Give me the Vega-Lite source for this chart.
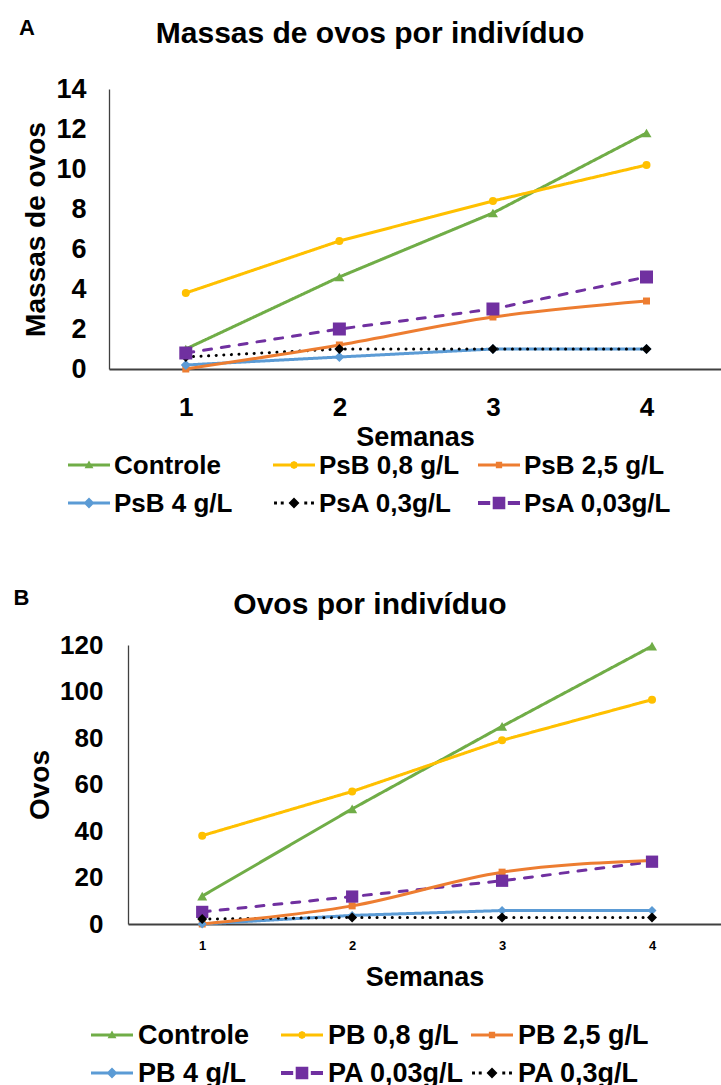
{
  "$schema": "https://vega.github.io/schema/vega-lite/v6.json",
  "background": "white",
  "padding": {"left": 13, "top": 17, "right": 0, "bottom": 0},
  "columns": 1,
  "align": "none",
  "spacing": 70,
  "resolve": {
    "scale": {"color": "independent", "shape": "independent", "stroke": "independent", "strokeDash": "independent", "strokeWidth": "independent"},
    "legend": {"color": "independent", "shape": "independent"}
  },
  "datasets": {
    "a": [
      {"semana": 1, "serie": "Controle", "valor": 1.0},
      {"semana": 2, "serie": "Controle", "valor": 4.6},
      {"semana": 3, "serie": "Controle", "valor": 7.8},
      {"semana": 4, "serie": "Controle", "valor": 11.8},
      {"semana": 1, "serie": "PsB 0,8 g/L", "valor": 3.8},
      {"semana": 2, "serie": "PsB 0,8 g/L", "valor": 6.4},
      {"semana": 3, "serie": "PsB 0,8 g/L", "valor": 8.4},
      {"semana": 4, "serie": "PsB 0,8 g/L", "valor": 10.2},
      {"semana": 1, "serie": "PsB 2,5 g/L", "valor": 0.0},
      {"semana": 2, "serie": "PsB 2,5 g/L", "valor": 1.2},
      {"semana": 3, "serie": "PsB 2,5 g/L", "valor": 2.6},
      {"semana": 4, "serie": "PsB 2,5 g/L", "valor": 3.4},
      {"semana": 1, "serie": "PsB 4 g/L", "valor": 0.2},
      {"semana": 2, "serie": "PsB 4 g/L", "valor": 0.6},
      {"semana": 3, "serie": "PsB 4 g/L", "valor": 1.0},
      {"semana": 4, "serie": "PsB 4 g/L", "valor": 1.0},
      {"semana": 1, "serie": "PsA 0,3g/L", "valor": 0.6},
      {"semana": 2, "serie": "PsA 0,3g/L", "valor": 1.0},
      {"semana": 3, "serie": "PsA 0,3g/L", "valor": 1.0},
      {"semana": 4, "serie": "PsA 0,3g/L", "valor": 1.0},
      {"semana": 1, "serie": "PsA 0,03g/L", "valor": 0.8},
      {"semana": 2, "serie": "PsA 0,03g/L", "valor": 2.0},
      {"semana": 3, "serie": "PsA 0,03g/L", "valor": 3.0},
      {"semana": 4, "serie": "PsA 0,03g/L", "valor": 4.6}
    ],
    "b": [
      {"semana": 1, "serie": "Controle", "valor": 12},
      {"semana": 2, "serie": "Controle", "valor": 49.5},
      {"semana": 3, "serie": "Controle", "valor": 85},
      {"semana": 4, "serie": "Controle", "valor": 119.5},
      {"semana": 1, "serie": "PB 0,8 g/L", "valor": 38},
      {"semana": 2, "serie": "PB 0,8 g/L", "valor": 57},
      {"semana": 3, "serie": "PB 0,8 g/L", "valor": 79},
      {"semana": 4, "serie": "PB 0,8 g/L", "valor": 96.5},
      {"semana": 1, "serie": "PB 2,5 g/L", "valor": 0},
      {"semana": 2, "serie": "PB 2,5 g/L", "valor": 7.8},
      {"semana": 3, "serie": "PB 2,5 g/L", "valor": 22.3},
      {"semana": 4, "serie": "PB 2,5 g/L", "valor": 27.3},
      {"semana": 1, "serie": "PB 4 g/L", "valor": 0},
      {"semana": 2, "serie": "PB 4 g/L", "valor": 3.7},
      {"semana": 3, "serie": "PB 4 g/L", "valor": 5.8},
      {"semana": 4, "serie": "PB 4 g/L", "valor": 5.8},
      {"semana": 1, "serie": "PA 0,03g/L", "valor": 5.2},
      {"semana": 2, "serie": "PA 0,03g/L", "valor": 11.8},
      {"semana": 3, "serie": "PA 0,03g/L", "valor": 18.6},
      {"semana": 4, "serie": "PA 0,03g/L", "valor": 26.8},
      {"semana": 1, "serie": "PA 0,3g/L", "valor": 2.1},
      {"semana": 2, "serie": "PA 0,3g/L", "valor": 2.8},
      {"semana": 3, "serie": "PA 0,3g/L", "valor": 2.8},
      {"semana": 4, "serie": "PA 0,3g/L", "valor": 2.8}
    ]
  },
  "concat": [
    {
      "title": {"text": "A", "anchor": "start", "fontSize": 22, "offset": -21, "dx": -4},
      "spacing": 0,
      "resolve": {
        "scale": {"color": "independent", "shape": "independent", "stroke": "independent", "strokeDash": "independent", "strokeWidth": "independent"},
        "legend": {"color": "independent", "shape": "independent"}
      },
      "vconcat": [
        {
          "width": 612,
          "height": 280,
          "title": {"text": "Massas de ovos por indivíduo", "fontSize": 30, "anchor": "middle", "dx": -45, "offset": 26},
          "data": {"name": "a"},
          "encoding": {
            "x": {"field": "semana", "type": "quantitative", "title": "Semanas",
              "scale": {"domain": [0.5, 4.485], "nice": false, "zero": false},
              "axis": {"values": [1, 2, 3, 4], "format": "d", "labelFontSize": 26, "labelPadding": 25, "titleFontSize": 27, "titlePadding": 4, "domainWidth": 2}},
            "y": {"field": "valor", "type": "quantitative", "title": "Massas de ovos",
              "scale": {"domain": [0, 14], "nice": false},
              "axis": {"values": [0, 2, 4, 6, 8, 10, 12, 14], "labelFontSize": 27, "labelPadding": 23, "titleFontSize": 28, "titlePadding": 5, "domainWidth": 1.3}}
          },
          "layer": [
            {
              "transform": [{"filter": "datum.serie !== 'PsB 2,5 g/L'"}],
              "mark": {"type": "line", "strokeCap": "round", "strokeJoin": "round"},
              "encoding": {
                "stroke": {"field": "serie", "type": "nominal", "legend": null,
                  "scale": {"domain": ["Controle", "PsB 0,8 g/L", "PsB 2,5 g/L", "PsB 4 g/L", "PsA 0,3g/L", "PsA 0,03g/L"],
                            "range": ["#70AD47", "#FFC000", "#ED7D31", "#5B9BD5", "#000000", "#7030A0"]}},
                "strokeDash": {"field": "serie", "type": "nominal", "legend": null,
                  "scale": {"domain": ["Controle", "PsB 0,8 g/L", "PsB 2,5 g/L", "PsB 4 g/L", "PsA 0,3g/L", "PsA 0,03g/L"],
                            "range": [[1, 0], [1, 0], [1, 0], [1, 0], [0.1, 7.5], [8, 10]]}},
                "strokeWidth": {"field": "serie", "type": "nominal", "legend": null,
                  "scale": {"domain": ["Controle", "PsB 0,8 g/L", "PsB 2,5 g/L", "PsB 4 g/L", "PsA 0,3g/L", "PsA 0,03g/L"],
                            "range": [3, 3, 3, 3, 3.6, 4]}}
              }
            },
            {
              "transform": [{"filter": "datum.serie === 'PsB 2,5 g/L'"}],
              "mark": {"type": "line", "interpolate": "monotone", "strokeCap": "round", "strokeWidth": 3, "color": "#ED7D31"},
              "encoding": {"detail": {"field": "serie", "type": "nominal"}}
            },
            {
              "transform": [{"filter": "datum.serie === 'Controle'"}],
              "mark": {"type": "point", "shape": "triangle-up", "filled": true, "opacity": 1, "size": 100, "color": "#70AD47"},
              "encoding": {}
            },
            {
              "transform": [{"filter": "datum.serie === 'PsB 0,8 g/L'"}],
              "mark": {"type": "point", "shape": "circle", "filled": true, "opacity": 1, "size": 64, "color": "#FFC000"},
              "encoding": {}
            },
            {
              "transform": [{"filter": "datum.serie === 'PsB 2,5 g/L'"}],
              "mark": {"type": "point", "shape": "square", "filled": true, "opacity": 1, "size": 49, "color": "#ED7D31"},
              "encoding": {}
            },
            {
              "transform": [{"filter": "datum.serie === 'PsB 4 g/L'"}],
              "mark": {"type": "point", "shape": "diamond", "filled": true, "opacity": 1, "size": 100, "color": "#5B9BD5"},
              "encoding": {}
            },
            {
              "transform": [{"filter": "datum.serie === 'PsA 0,3g/L'"}],
              "mark": {"type": "point", "shape": "diamond", "filled": true, "opacity": 1, "size": 100, "color": "#000000"},
              "encoding": {}
            },
            {
              "transform": [{"filter": "datum.serie === 'PsA 0,03g/L'"}],
              "mark": {"type": "point", "shape": "square", "filled": true, "opacity": 1, "size": 169, "color": "#7030A0"},
              "encoding": {}
            }
          ]
        },
        {
          "data": {"name": "a"},
          "transform": [{"filter": "datum.semana === 1"}],
          "facet": {"field": "serie", "type": "nominal", "title": null,
            "header": {"labels": false, "labelExpr": "''", "labelFontSize": 1, "labelPadding": 0, "labelColor": "transparent"},
            "sort": ["Controle", "PsB 0,8 g/L", "PsB 2,5 g/L", "PsB 4 g/L", "PsA 0,3g/L", "PsA 0,03g/L"]},
          "columns": 3,
          "spacing": {"row": 10, "column": 8},
          "bounds": "flush",
          "spec": {
            "width": 197,
            "height": 28,
            "layer": [
              {
                "mark": {"type": "point", "filled": true, "opacity": 1, "size": 1764, "strokeWidth": 0, "xOffset": -118.5},
                "encoding": {
                  "color": {"field": "serie", "type": "nominal", "legend": null,
                    "scale": {"domain": ["Controle", "PsB 0,8 g/L", "PsB 2,5 g/L", "PsB 4 g/L", "PsA 0,3g/L", "PsA 0,03g/L"],
                              "range": ["#70AD47", "#FFC000", "#ED7D31", "#5B9BD5", "#000000", "#7030A0"]}},
                  "shape": {"field": "serie", "type": "nominal", "legend": null,
                    "scale": {"domain": ["Controle", "PsB 0,8 g/L", "PsB 2,5 g/L", "PsB 4 g/L", "PsA 0,3g/L", "PsA 0,03g/L"],
                              "range": [
                                "M-1,-0.075H1V0.075H-1Z M0,-0.22L0.21,0.15H-0.21Z",
                                "M-1,-0.075H1V0.075H-1Z M0.19,0L0.134,0.134L0,0.19L-0.134,0.134L-0.19,0L-0.134,-0.134L0,-0.19L0.134,-0.134Z",
                                "M-1,-0.075H1V0.075H-1Z M-0.15,-0.15H0.15V0.15H-0.15Z",
                                "M-1,-0.075H1V0.075H-1Z M0,-0.26L0.26,0L0,0.26L-0.26,0Z",
                                "M-0.95,-0.07H-0.81V0.07H-0.95Z M-0.63,-0.07H-0.49V0.07H-0.63Z M0,-0.26L0.26,0L0,0.26L-0.26,0Z M0.49,-0.07H0.63V0.07H0.49Z M0.81,-0.07H0.95V0.07H0.81Z",
                                "M-1,-0.09H-0.42V0.09H-1Z M0.42,-0.09H1V0.09H0.42Z M-0.3,-0.3H0.3V0.3H-0.3Z"
                              ]}}
                }
              },
              {
                "mark": {"type": "text", "align": "left", "baseline": "middle", "dx": -93.5, "dy": 1, "font": "Liberation Sans", "fontSize": 26, "fontWeight": "bold", "color": "#000000"},
                "encoding": {"text": {"field": "serie", "type": "nominal"}}
              }
            ]
          }
        }
      ]
    },
    {
      "title": {"text": "B", "anchor": "start", "fontSize": 22, "offset": -20, "dx": -13},
      "spacing": 30,
      "resolve": {
        "scale": {"color": "independent", "shape": "independent", "stroke": "independent", "strokeDash": "independent", "strokeWidth": "independent"},
        "legend": {"color": "independent", "shape": "independent"}
      },
      "vconcat": [
        {
          "width": 612,
          "height": 279,
          "title": {"text": "Ovos por indivíduo", "fontSize": 30, "anchor": "middle", "dx": -45, "offset": 12},
          "data": {"name": "b"},
          "encoding": {
            "x": {"field": "semana", "type": "quantitative", "title": "Semanas",
              "scale": {"domain": [0.505, 4.46], "nice": false, "zero": false, "range": [19, 612]},
              "axis": {"values": [1, 2, 3, 4], "format": "d", "labelFontSize": 13, "labelPadding": 15, "titleFontSize": 27, "titlePadding": 12, "domainWidth": 2}},
            "y": {"field": "valor", "type": "quantitative", "title": "Ovos",
              "scale": {"domain": [0, 120], "nice": false},
              "axis": {"values": [0, 20, 40, 60, 80, 100, 120], "offset": -19, "labelFontSize": 26, "labelPadding": 25, "titleFontSize": 28, "titlePadding": 5, "domainWidth": 1.3}}
          },
          "layer": [
            {
              "transform": [{"filter": "datum.serie !== 'PB 2,5 g/L'"}],
              "mark": {"type": "line", "strokeCap": "round", "strokeJoin": "round"},
              "encoding": {
                "stroke": {"field": "serie", "type": "nominal", "legend": null,
                  "scale": {"domain": ["Controle", "PB 0,8 g/L", "PB 2,5 g/L", "PB 4 g/L", "PA 0,03g/L", "PA 0,3g/L"],
                            "range": ["#70AD47", "#FFC000", "#ED7D31", "#5B9BD5", "#7030A0", "#000000"]}},
                "strokeDash": {"field": "serie", "type": "nominal", "legend": null,
                  "scale": {"domain": ["Controle", "PB 0,8 g/L", "PB 2,5 g/L", "PB 4 g/L", "PA 0,03g/L", "PA 0,3g/L"],
                            "range": [[1, 0], [1, 0], [1, 0], [1, 0], [8, 10], [0.1, 7.5]]}},
                "strokeWidth": {"field": "serie", "type": "nominal", "legend": null,
                  "scale": {"domain": ["Controle", "PB 0,8 g/L", "PB 2,5 g/L", "PB 4 g/L", "PA 0,03g/L", "PA 0,3g/L"],
                            "range": [3, 3, 3, 3, 4, 3.6]}}
              }
            },
            {
              "transform": [{"filter": "datum.serie === 'PB 2,5 g/L'"}],
              "mark": {"type": "line", "interpolate": "monotone", "strokeCap": "round", "strokeWidth": 3, "color": "#ED7D31"},
              "encoding": {"detail": {"field": "serie", "type": "nominal"}}
            },
            {
              "transform": [{"filter": "datum.serie === 'Controle'"}],
              "mark": {"type": "point", "shape": "triangle-up", "filled": true, "opacity": 1, "size": 100, "color": "#70AD47"},
              "encoding": {}
            },
            {
              "transform": [{"filter": "datum.serie === 'PB 0,8 g/L'"}],
              "mark": {"type": "point", "shape": "circle", "filled": true, "opacity": 1, "size": 64, "color": "#FFC000"},
              "encoding": {}
            },
            {
              "transform": [{"filter": "datum.serie === 'PB 2,5 g/L'"}],
              "mark": {"type": "point", "shape": "square", "filled": true, "opacity": 1, "size": 49, "color": "#ED7D31"},
              "encoding": {}
            },
            {
              "transform": [{"filter": "datum.serie === 'PB 4 g/L'"}],
              "mark": {"type": "point", "shape": "diamond", "filled": true, "opacity": 1, "size": 81, "color": "#5B9BD5"},
              "encoding": {}
            },
            {
              "transform": [{"filter": "datum.serie === 'PA 0,03g/L'"}],
              "mark": {"type": "point", "shape": "square", "filled": true, "opacity": 1, "size": 150, "color": "#7030A0"},
              "encoding": {}
            },
            {
              "transform": [{"filter": "datum.serie === 'PA 0,3g/L'"}],
              "mark": {"type": "point", "shape": "diamond", "filled": true, "opacity": 1, "size": 100, "color": "#000000"},
              "encoding": {}
            }
          ]
        },
        {
          "data": {"name": "b"},
          "transform": [{"filter": "datum.semana === 1"}],
          "facet": {"field": "serie", "type": "nominal", "title": null,
            "header": {"labels": false, "labelExpr": "''", "labelFontSize": 1, "labelPadding": 0, "labelColor": "transparent"},
            "sort": ["Controle", "PB 0,8 g/L", "PB 2,5 g/L", "PB 4 g/L", "PA 0,03g/L", "PA 0,3g/L"]},
          "columns": 3,
          "spacing": {"row": 10, "column": 8},
          "bounds": "flush",
          "spec": {
            "width": 182,
            "height": 28,
            "layer": [
              {
                "mark": {"type": "point", "filled": true, "opacity": 1, "size": 1764, "strokeWidth": 0, "xOffset": -88},
                "encoding": {
                  "color": {"field": "serie", "type": "nominal", "legend": null,
                    "scale": {"domain": ["Controle", "PB 0,8 g/L", "PB 2,5 g/L", "PB 4 g/L", "PA 0,03g/L", "PA 0,3g/L"],
                              "range": ["#70AD47", "#FFC000", "#ED7D31", "#5B9BD5", "#7030A0", "#000000"]}},
                  "shape": {"field": "serie", "type": "nominal", "legend": null,
                    "scale": {"domain": ["Controle", "PB 0,8 g/L", "PB 2,5 g/L", "PB 4 g/L", "PA 0,03g/L", "PA 0,3g/L"],
                              "range": [
                                "M-1,-0.075H1V0.075H-1Z M0,-0.22L0.21,0.15H-0.21Z",
                                "M-1,-0.075H1V0.075H-1Z M0.19,0L0.134,0.134L0,0.19L-0.134,0.134L-0.19,0L-0.134,-0.134L0,-0.19L0.134,-0.134Z",
                                "M-1,-0.075H1V0.075H-1Z M-0.15,-0.15H0.15V0.15H-0.15Z",
                                "M-1,-0.075H1V0.075H-1Z M0,-0.26L0.26,0L0,0.26L-0.26,0Z",
                                "M-1,-0.09H-0.42V0.09H-1Z M0.42,-0.09H1V0.09H0.42Z M-0.3,-0.3H0.3V0.3H-0.3Z",
                                "M-0.95,-0.07H-0.81V0.07H-0.95Z M-0.63,-0.07H-0.49V0.07H-0.63Z M0,-0.26L0.26,0L0,0.26L-0.26,0Z M0.49,-0.07H0.63V0.07H0.49Z M0.81,-0.07H0.95V0.07H0.81Z"
                              ]}}
                }
              },
              {
                "mark": {"type": "text", "align": "left", "baseline": "middle", "dx": -62, "dy": 1, "font": "Liberation Sans", "fontSize": 27, "fontWeight": "bold", "color": "#000000"},
                "encoding": {"text": {"field": "serie", "type": "nominal"}}
              }
            ]
          }
        }
      ]
    }
  ],
  "config": {
    "view": {"stroke": null},
    "font": "Liberation Sans",
    "header": {"labels": false, "labelExpr": "''", "labelFontSize": 1, "labelPadding": 0, "labelColor": "transparent", "titlePadding": 0},
    "headerFacet": {"labels": false, "labelExpr": "''", "labelFontSize": 1, "labelPadding": 0, "labelColor": "transparent"},
    "title": {"font": "Liberation Sans", "fontWeight": "bold", "color": "#000000"},
    "axis": {
      "grid": false, "ticks": false, "tickSize": 0,
      "labelFont": "Liberation Sans", "labelFontWeight": "bold", "labelColor": "#000000",
      "titleFont": "Liberation Sans", "titleFontWeight": "bold", "titleColor": "#000000",
      "domainColor": "#404040"
    }
  }
}
